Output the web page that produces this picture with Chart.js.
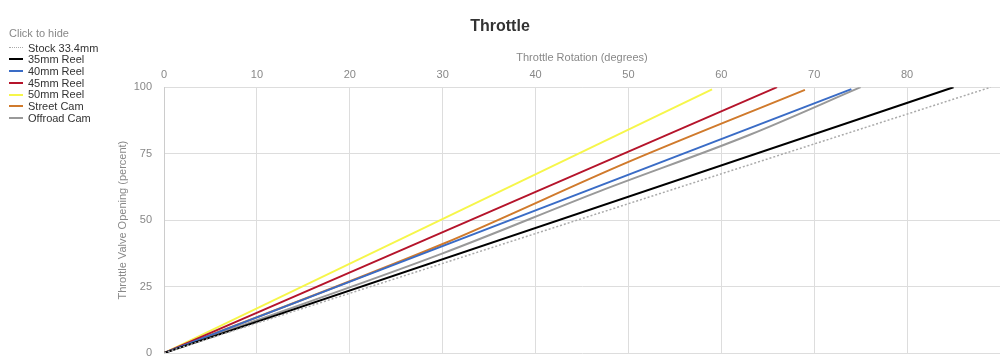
<!DOCTYPE html>
<html><head><meta charset="utf-8">
<script src="https://cdn.jsdelivr.net/npm/chart.js@4.4.1/dist/chart.umd.min.js"></script>
<style>
html,body{margin:0;padding:0;background:#fff;}
#wrap{position:relative;width:1000px;height:361px;}
#legend{position:absolute;left:9px;top:28px;font-family:"Liberation Sans",Arial,sans-serif;font-size:11px;color:#333;line-height:11.7px;}
#legend .ttl{color:#888;margin-bottom:3px;}
#legend .it{cursor:pointer;white-space:nowrap;height:11.7px;}
#legend .sw{display:inline-block;width:14px;height:0;vertical-align:middle;margin-right:5px;position:relative;top:-1px;}
#legend .off{opacity:.4;}
</style></head>
<body><div id="wrap"><canvas id="c" width="1000" height="361"></canvas><div id="legend"></div></div>
<script>
const seriesNames = ["Stock 33.4mm","35mm Reel","40mm Reel","45mm Reel","50mm Reel","Street Cam","Offroad Cam"];
const seriesColors = ["#aaaaaa","#000000","#3a6cc6","#b5142b","#f6f64a","#d07a2c","#999999"];
// throttle rotation (degrees) and valve opening (percent) per series
const stockRot = [0, 89];        const stockOpen = [0, 100];
const reel35Rot = [0, 85];       const reel35Open = [0, 100];
const reel40Rot = [0, 74];       const reel40Open = [0, 99.3];
const reel45Rot = [0, 66];       const reel45Open = [0, 100];
const reel50Rot = [0, 59];       const reel50Open = [0, 99.2];
const streetRot = [0, 30, 50, 69];       const streetOpen = [0, 41, 71.9, 99];
const offroadRot = [0, 30, 47, 63, 75];  const offroadOpen = [0, 37.5, 61, 82, 100];
const seriesRot = [stockRot, reel35Rot, reel40Rot, reel45Rot, reel50Rot, streetRot, offroadRot];
const seriesOpen = [stockOpen, reel35Open, reel40Open, reel45Open, reel50Open, streetOpen, offroadOpen];
const xTicks = [0,10,20,30,40,50,60,70,80];
const yTicks = [0,25,50,75,100];

const FONT = "'Liberation Sans', Arial, sans-serif";
const datasets = seriesNames.map((n,i)=>({
  label:n,
  data:seriesRot[i].map((x,j)=>({x:x,y:seriesOpen[i][j]})),
  borderColor:seriesColors[i],
  backgroundColor:seriesColors[i],
  borderWidth: i===0?1.5:2,
  borderDash: i===0?[2,2]:[],
  pointRadius:0,
  fill:false,
  cubicInterpolationMode:'monotone'
}));

const chart = new Chart(document.getElementById('c'),{
  type:'line',
  data:{datasets},
  options:{
    responsive:false,animation:false,
    layout:{padding:{left:0,right:0,top:0,bottom:8}},
    plugins:{
      legend:{display:false},
      tooltip:{enabled:false},
      title:{display:true,text:'Throttle',color:'#333',font:{family:FONT,size:16,weight:'bold'},padding:{top:17,bottom:9}}
    },
    scales:{
      x:{type:'linear',position:'top',min:0,max:90,
        afterBuildTicks:s=>{s.ticks=xTicks.concat([90]).map(v=>({value:v}));},
        ticks:{color:'#888',font:{family:FONT,size:11},padding:6,maxRotation:0,callback:v=>v===90?'':v},
        grid:{color:'#dddddd',drawTicks:false},
        border:{color:'#dddddd'},
        title:{display:true,text:'Throttle Rotation (degrees)',color:'#888',font:{family:FONT,size:11},padding:{top:6,bottom:3}},
        afterFit:s=>{s.height=42;s.paddingLeft=0;s.paddingRight=0;}
      },
      y:{type:'linear',min:0,max:100,
        afterBuildTicks:s=>{s.ticks=yTicks.map(v=>({value:v}));},
        ticks:{color:'#888',font:{family:FONT,size:11},padding:12},
        grid:{color:'#dddddd',drawTicks:false},
        border:{color:'#cccccc'},
        title:{display:true,text:'Throttle Valve Opening (percent)',color:'#888',font:{family:FONT,size:11},padding:{top:116,bottom:4}},
        afterFit:s=>{s.width=164;s.paddingTop=0;s.paddingBottom=0;}
      }
    }
  }
});

const lg=document.getElementById('legend');
const t=document.createElement('div');t.className='ttl';t.textContent='Click to hide';lg.appendChild(t);
seriesNames.forEach((n,i)=>{
  const d=document.createElement('div');d.className='it';
  const sw=document.createElement('span');sw.className='sw';
  sw.style.borderTop=(i===0?'1px dotted ':'2px solid ')+seriesColors[i];
  d.appendChild(sw);d.appendChild(document.createTextNode(n));
  d.onclick=()=>{const v=chart.isDatasetVisible(i);chart.setDatasetVisibility(i,!v);d.classList.toggle('off',v);chart.update();};
  lg.appendChild(d);
});
</script></body></html>
